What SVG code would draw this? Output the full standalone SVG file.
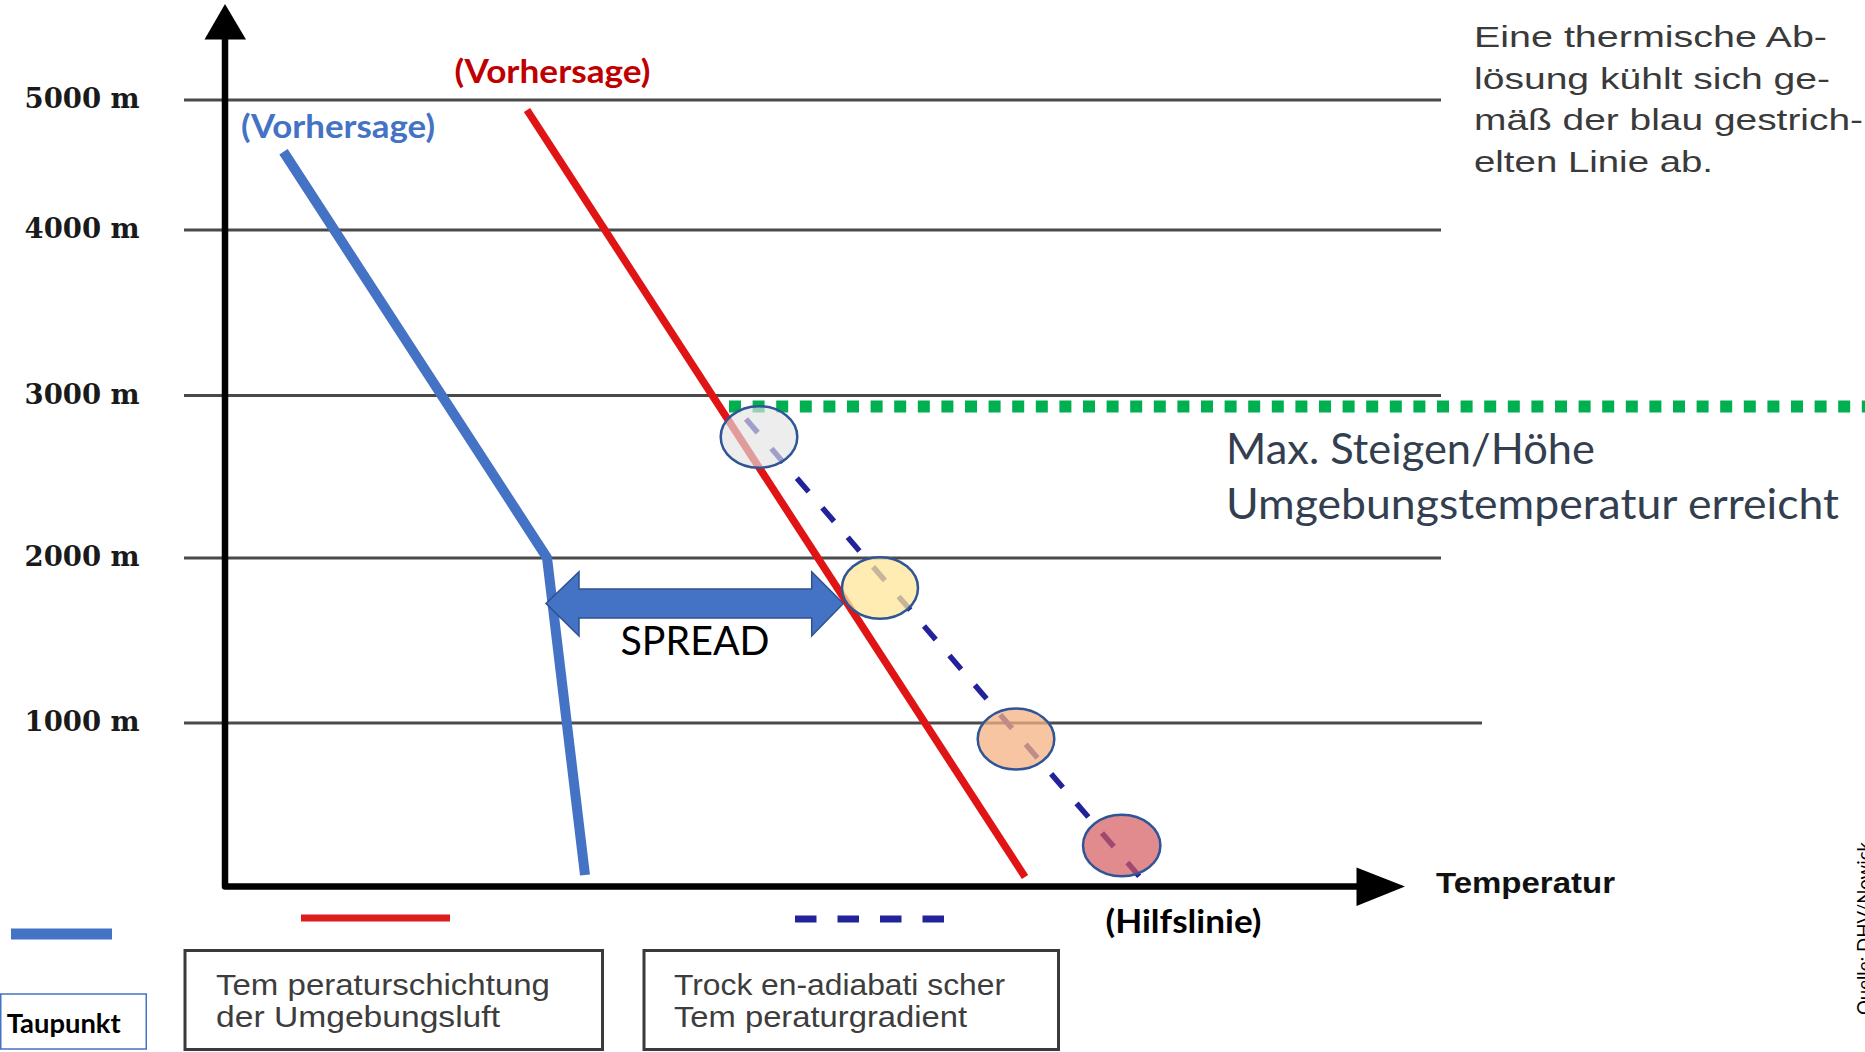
<svg xmlns="http://www.w3.org/2000/svg" width="1865" height="1052" viewBox="0 0 1865 1052">
<style>
.grid{stroke:#4a4a4a;stroke-width:3;fill:none}
.axis{stroke:#000;stroke-width:6.5;fill:none;stroke-linejoin:round}
.alt{font-family:'DejaVu Serif','Liberation Serif',serif;font-weight:bold;font-size:27.5px;fill:#1a1a1a}
.cal{font-family:Lato,'Open Sans',sans-serif}
.b{font-weight:bold}
.ar{font-family:'Liberation Sans',Arial,sans-serif}
.ell{stroke:#2F5597;stroke-width:2.5}
.box{fill:#fff;stroke:#3a3a3a;stroke-width:3}
.boxtxt{font-family:'Liberation Sans',Arial,sans-serif;font-size:30px;fill:#3d3d3d}
.para{font-family:'Liberation Sans',Arial,sans-serif;font-size:29px;fill:#3a3a3a}
</style>
<rect width="1865" height="1052" fill="#fff"/>

<g id="grid" class="grid">
  <line x1="184" y1="100" x2="1441" y2="100"/>
  <line x1="184" y1="230" x2="1441" y2="230"/>
  <line x1="184" y1="395.5" x2="1441" y2="395.5"/>
  <line x1="184" y1="558" x2="1441" y2="558"/>
  <line x1="184" y1="723" x2="1482" y2="723"/>
</g>

<g id="altitude-labels" class="alt">
  <text x="24.5" y="108">5000 m</text>
  <text x="24.5" y="238">4000 m</text>
  <text x="24.5" y="403.5">3000 m</text>
  <text x="24.5" y="566">2000 m</text>
  <text x="24.5" y="731">1000 m</text>
</g>

<g id="axes">
  <polyline class="axis" points="225,36 225,886.5 1360,886.5"/>
  <polygon points="225,4 204.5,39.5 246,39.5" fill="#000"/>
  <polygon points="1405,886.5 1356.5,867.5 1356.5,906" fill="#000"/>
</g>

<g id="connectors">
  <line id="max-level" x1="729" y1="406.5" x2="1865" y2="406.5" stroke="#00B050" stroke-width="12" stroke-dasharray="12 11.6"/>
  <line id="environment-curve" x1="527" y1="110" x2="1025" y2="877" stroke="#E01414" stroke-width="7.5"/>
  <polyline id="dewpoint-curve" points="283.5,151.7 547,557.7 585,875" fill="none" stroke="#4472C4" stroke-width="10" stroke-linejoin="round"/>
  <line id="dry-adiabat" x1="746" y1="419" x2="1145" y2="883" stroke="#22229A" stroke-width="5.5" stroke-dasharray="18 21"/>
</g>

<g id="spread">
  <polygon points="546,603.5 579,571.7 579,589 811.7,589 811.7,571.7 843.3,603.5 811.7,636 811.7,618 579,618 579,636" fill="#4472C4" stroke="#2F528F" stroke-width="1.5" stroke-linejoin="miter"/>
  <text class="cal" x="620.5" y="655" font-size="40" textLength="149" lengthAdjust="spacingAndGlyphs" fill="#000">SPREAD</text>
</g>

<g id="parcels">
  <ellipse id="parcel-1" class="ell" cx="759" cy="437" rx="38.3" ry="30.8" fill="#E4E4E4" fill-opacity="0.65"/>
  <ellipse id="parcel-2" class="ell" cx="880" cy="588" rx="38" ry="30.8" fill="#FFE699" fill-opacity="0.75"/>
  <ellipse id="parcel-3" class="ell" cx="1016" cy="739" rx="38.3" ry="30.5" fill="#F4B183" fill-opacity="0.75"/>
  <ellipse id="parcel-4" class="ell" cx="1121.7" cy="845.5" rx="38.7" ry="30.8" fill="#D45A5F" fill-opacity="0.7"/>
</g>

<g id="label-forecast-red">
  <text class="cal b" x="454.5" y="83" font-size="33" textLength="196" lengthAdjust="spacingAndGlyphs" fill="#C00000">(Vorhersage)</text>
</g>
<g id="label-forecast-blue">
  <text class="cal b" x="241" y="138" font-size="33" textLength="194" lengthAdjust="spacingAndGlyphs" fill="#4472C4">(Vorhersage)</text>
</g>
<g id="label-hilfslinie">
  <text class="cal b" x="1105.5" y="933" font-size="33" textLength="156" lengthAdjust="spacingAndGlyphs" fill="#000">(Hilfslinie)</text>
</g>
<g id="label-temperatur">
  <text class="ar b" x="1436" y="893" font-size="29" textLength="179" lengthAdjust="spacingAndGlyphs" fill="#111">Temperatur</text>
</g>

<g id="note-max">
  <text class="cal" x="1226" y="464" font-size="43" textLength="369" lengthAdjust="spacingAndGlyphs" fill="#333F50">Max. Steigen/Höhe</text>
  <text class="cal" x="1226" y="519" font-size="43" textLength="613" lengthAdjust="spacingAndGlyphs" fill="#333F50">Umgebungstemperatur erreicht</text>
</g>

<g id="note-thermal" class="para">
  <text x="1474" y="47" textLength="353" lengthAdjust="spacingAndGlyphs">Eine thermische Ab-</text>
  <text x="1474" y="88.5" textLength="356" lengthAdjust="spacingAndGlyphs">lösung kühlt sich ge-</text>
  <text x="1474" y="130" textLength="389" lengthAdjust="spacingAndGlyphs">mäß der blau gestrich-</text>
  <text x="1474" y="171.5" textLength="239" lengthAdjust="spacingAndGlyphs">elten Linie ab.</text>
</g>

<g id="legend-dewpoint">
  <line x1="11" y1="934" x2="112" y2="934" stroke="#4472C4" stroke-width="11"/>
  <rect x="0.75" y="994" width="145.5" height="55" fill="#fff" stroke="#4472C4" stroke-width="1.5"/>
  <text class="cal b" x="6.7" y="1032.5" font-size="26" textLength="114" lengthAdjust="spacingAndGlyphs" fill="#000">Taupunkt</text>
</g>

<g id="legend-environment">
  <line x1="301" y1="918" x2="450" y2="918" stroke="#DD1C1C" stroke-width="7"/>
  <rect class="box" x="185" y="950.5" width="417.5" height="99"/>
  <text class="boxtxt" x="216" y="995" textLength="334" lengthAdjust="spacingAndGlyphs">Tem peraturschichtung</text>
  <text class="boxtxt" x="216" y="1027" textLength="284" lengthAdjust="spacingAndGlyphs">der Umgebungsluft</text>
</g>

<g id="legend-adiabat">
  <line x1="795" y1="919" x2="946" y2="919" stroke="#22229A" stroke-width="7" stroke-dasharray="21.5 21"/>
  <rect class="box" x="644" y="950.5" width="414.5" height="99"/>
  <text class="boxtxt" x="674" y="995" textLength="331" lengthAdjust="spacingAndGlyphs">Trock en-adiabati scher</text>
  <text class="boxtxt" x="674" y="1027" textLength="293" lengthAdjust="spacingAndGlyphs">Tem peraturgradient</text>
</g>

<g id="source">
  <text class="cal" transform="translate(1871,1015) rotate(-90)" font-size="18.6" textLength="173" lengthAdjust="spacingAndGlyphs" fill="#000">Quelle: DHV/Nowick</text>
</g>
</svg>
